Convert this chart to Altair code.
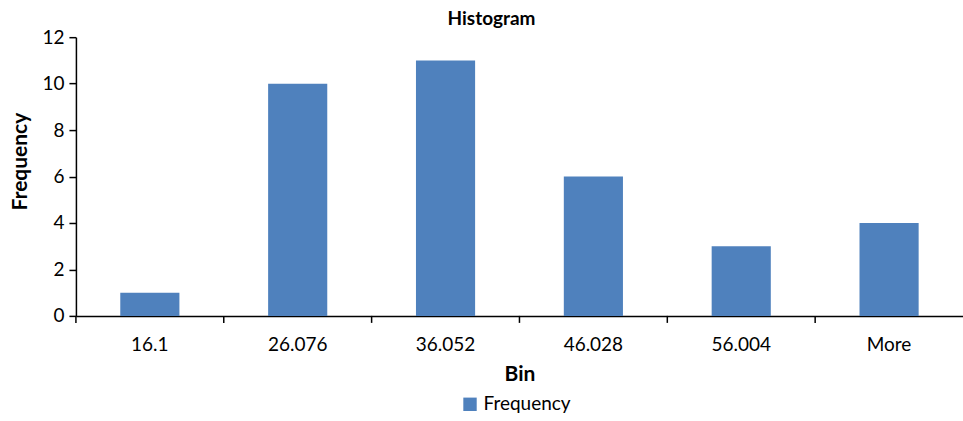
import altair as alt
import pandas as pd

# Histogram output: bin upper edges and their counts
bins = ["16.1", "26.076", "36.052", "46.028", "56.004", "More"]
freq = [1, 10, 11, 6, 3, 4]
series = "Frequency"

df = pd.DataFrame({"Bin": bins, "Frequency": freq, "series": [series] * len(bins)})

W, H = 888, 279
BAR = "#4F81BD"
FONT = "Lato"

x_scale = alt.Scale(domain=bins, paddingInner=0, paddingOuter=0)

bars = alt.Chart(df).mark_bar(width=alt.RelativeBandSize(0.4), color=BAR).encode(
    x=alt.X(
        "Bin:N",
        sort=bins,
        scale=x_scale,
        title="Bin",
        axis=alt.Axis(
            labelAngle=0,
            ticks=False,
            domainColor="black",
            domainWidth=1.5,
            labelFontSize=19,
            labelColor="black",
            labelPadding=20,
            titleFontSize=21,
            titleFontWeight="bold",
            titleColor="black",
            titlePadding=9,
        ),
    ),
    y=alt.Y(
        "Frequency:Q",
        scale=alt.Scale(domain=[0, 12], nice=False),
        title="Frequency",
        axis=alt.Axis(
            values=[0, 2, 4, 6, 8, 10, 12],
            grid=False,
            domainColor="black",
            domainWidth=1.5,
            tickColor="black",
            tickWidth=1.5,
            tickSize=7,
            labelFontSize=19,
            labelColor="black",
            labelPadding=5,
            titleFontSize=21,
            titleFontWeight="bold",
            titleColor="black",
            titleAngle=270,
            titleAlign="center",
            titleBaseline="middle",
            titleX=-55,
            titleY=124,
        ),
    ),
    color=alt.Color(
        "series:N",
        scale=alt.Scale(domain=[series], range=[BAR]),
        legend=alt.Legend(
            title=None,
            orient="none",
            legendX=385,
            legendY=358,
            symbolType="square",
            symbolSize=180,
            symbolStrokeWidth=0,
            labelFontSize=19,
            labelColor="black",
            labelOffset=4,
            padding=0,
        ),
    ),
)

# Category boundary ticks below the x axis
ticks = alt.Chart(df).mark_rule(color="black", strokeWidth=1.5).encode(
    x=alt.X("Bin:N", sort=bins, scale=x_scale, bandPosition=0),
    y=alt.value(H),
    y2=alt.value(H + 7),
)

chart = (
    alt.layer(bars, ticks)
    .properties(
        width=W,
        height=H,
        title=alt.TitleParams(
            "Histogram",
            fontSize=19,
            fontWeight="bold",
            color="black",
            anchor="middle",
            dx=-28,
            offset=-1,
        ),
        autosize=alt.AutoSizeParams(type="none"),
        padding={"left": 76, "top": 37, "right": 0, "bottom": 105},
    )
    .configure(font=FONT)
    .configure_view(stroke=None)
)

chart.save("out.html", embed_options={"renderer": "svg", "actions": False})
